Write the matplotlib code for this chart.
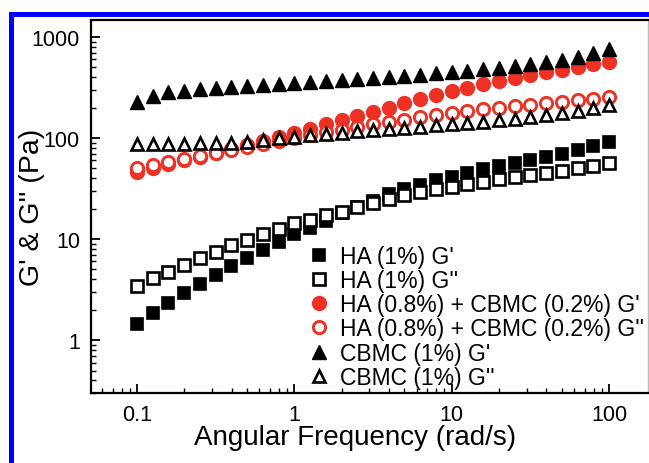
import matplotlib
matplotlib.use("Agg")
import matplotlib.pyplot as plt
from matplotlib.patches import Rectangle

plt.rcParams['font.family'] = ['Liberation Sans', 'DejaVu Sans']

# angular frequency (rad/s)
freq = [0.1, 0.126, 0.158, 0.2, 0.251, 0.316, 0.398, 0.501, 0.631, 0.794,
        1.0, 1.26, 1.58, 2.0, 2.51, 3.16, 3.98, 5.01, 6.31, 7.94,
        10.0, 12.6, 15.8, 20.0, 25.1, 31.6, 39.8, 50.1, 63.1, 79.4, 100.0]

# HA (1%)
ha_g1 = [1.44, 1.86, 2.33, 2.93, 3.6, 4.4, 5.4, 6.5, 7.8, 9.4,
         11.3, 12.9, 15.2, 18.0, 21.0, 24.0, 28.0, 31.0, 34.0, 38.0,
         41.0, 45.0, 49.0, 53.0, 57.0, 61.0, 65.0, 70.0, 76.0, 83.0, 91.0]
ha_g2 = [3.4, 4.1, 4.7, 5.5, 6.5, 7.5, 8.8, 9.8, 11.3, 12.6,
         14.5, 15.5, 17.4, 18.7, 21.0, 23.0, 25.0, 27.0, 29.0, 31.0,
         33.0, 35.0, 37.0, 39.0, 41.0, 43.0, 45.0, 47.0, 50.0, 53.0, 57.0]

# HA (0.8%) + CBMC (0.2%)
mix_g1 = [46, 50, 55, 60, 65, 71, 78, 86, 94, 103,
          113, 124, 136, 150, 165, 182, 200, 220, 242, 265,
          290, 315, 340, 365, 392, 420, 447, 475, 505, 535, 565]
mix_g2 = [51, 54, 58, 62, 66, 71, 76, 82, 88, 94,
          100, 107, 114, 121, 128, 136, 144, 152, 160, 168,
          176, 184, 192, 200, 207, 214, 221, 228, 235, 243, 252]

# CBMC (1%)
cb_g1 = [225, 262, 283, 295, 305, 312, 320, 327, 335, 342,
         350, 358, 366, 374, 383, 392, 402, 412, 423, 435,
         448, 462, 478, 495, 515, 538, 565, 595, 630, 690, 760]
cb_g2 = [88, 88, 88, 88, 89, 89, 90, 92, 95, 99,
         103, 107, 110, 113, 116, 119, 122, 125, 129, 133,
         137, 141, 145, 150, 155, 160, 167, 175, 185, 197, 212]

red = '#ee3124'

fig = plt.figure(figsize=(6.49, 4.64), dpi=100)
ax = fig.add_axes([91/649, 1 - 394/464, (648-91)/649, (394-21)/464])

ax.plot(freq, ha_g1, 's', ms=8.5, mfc='black', mec='black', mew=1.2, ls='none', label="HA (1%) G'")
ax.plot(freq, ha_g2, 's', ms=8.0, mfc='white', mec='black', mew=1.9, ls='none', label="HA (1%) G''")
ax.plot(freq, mix_g1, 'o', ms=9.8, mfc=red, mec=red, mew=1.2, ls='none', label="HA (0.8%) + CBMC (0.2%) G'")
ax.plot(freq, mix_g2, 'o', ms=8.8, mfc='white', mec=red, mew=2.1, ls='none', label="HA (0.8%) + CBMC (0.2%) G''")
ax.plot(freq, cb_g1, '^', ms=10.5, mfc='black', mec='black', mew=1.0, ls='none', label="CBMC (1%) G'")
ax.plot(freq, cb_g2, '^', ms=9.0, mfc='white', mec='black', mew=1.9, ls='none', label="CBMC (1%) G''")

ax.set_xscale('log')
ax.set_yscale('log')
ax.set_xlim(0.051, 177)
ax.set_ylim(0.30, 1470)
ax.set_xticks([0.1, 1, 10, 100])
ax.set_xticklabels(['0.1', '1', '10', '100'])
ax.set_yticks([1, 10, 100, 1000])
ax.set_yticklabels(['1', '10', '100', '1000'])

ax.tick_params(which='major', direction='in', length=6.5, width=1.3, labelsize=15.5, pad=8)
ax.tick_params(which='minor', direction='in', length=3.5, width=1.0)
for s in ['left', 'bottom', 'top']:
    ax.spines[s].set_linewidth(1.6)
ax.spines['right'].set_linewidth(1.0)
ax.spines['right'].set_color('#bbbbbb')

ax.set_xlabel('Angular Frequency (rad/s)', fontsize=20)
ax.set_ylabel("G' & G'' (Pa)", fontsize=20.5)
ax.xaxis.set_label_coords(0.474, -0.083)
ax.yaxis.set_label_coords(-0.083, 0.5)

ax.legend(loc='upper left', bbox_to_anchor=(310/649, 1 - 246/464), bbox_transform=fig.transFigure,
          frameon=False, fontsize=16.5, handlelength=0.8, handletextpad=0.5,
          labelspacing=0.05, borderpad=0, borderaxespad=0)

# blue frame around the figure (cut off at right and bottom)
fig.add_artist(Rectangle((10.5/649, -0.2), 2.0, 1.2 - 15/464, transform=fig.transFigure,
                         fill=False, ec='#0000ff', lw=3.6))

fig.savefig('out.png', dpi=100)
